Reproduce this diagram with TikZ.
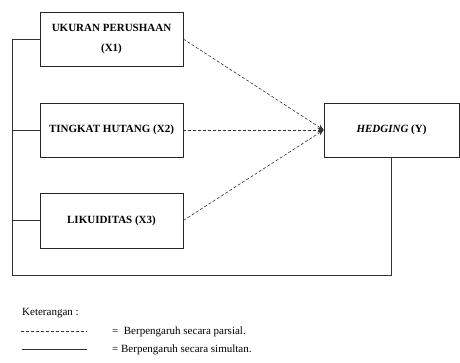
\documentclass[tikz,border=0pt]{standalone}
\usepackage{fontspec}
\setmainfont{Liberation Serif}
\usetikzlibrary{
    positioning,   % Relative positioning
    arrows.meta,   % Modern arrow tips
    shadows        % Drop shadows
}

\tikzset{
    varbox/.style={draw=black!85, line width=0.6pt, fill=white,
        minimum width=143pt, minimum height=54pt, inner sep=0pt,
        align=center, font=\fontsize{11}{20}\selectfont\bfseries,
        drop shadow={shadow xshift=1.2pt, shadow yshift=-1.5pt, fill=black!35, opacity=0.6}},
    partial/.style={draw=black!80, line width=0.6pt, dash pattern=on 3pt off 2pt},
    simul/.style={draw=black!80, line width=0.6pt},
    note/.style={anchor=west, inner sep=0pt, font=\fontsize{11}{13}\selectfont}
}

\begin{document}
\begin{tikzpicture}[x=1pt,y=-1pt]
    \useasboundingbox (0,0) rectangle (460,363);

    % variables
    \node[varbox] (x1) at (111.5,39) {UKURAN PERUSHAAN\\(X1)};
    \node[varbox] (x2) at (111.5,130) {TINGKAT HUTANG (X2)};
    \node[varbox, minimum height=55pt] (x3) at (111.5,220.5) {LIKUIDITAS (X3)};
    \node[varbox, minimum width=135pt] (y) at (391.5,130) {\textit{HEDGING} (Y)};

    % simultaneous path
    \coordinate (bl) at (12,275);
    \draw[simul] (x1.west) -| (bl) -| (y.south);
    \draw[simul] (x2.west) -- (x2.west -| bl);
    \draw[simul] (x3.west) -- (x3.west -| bl);

    % partial paths
    \foreach \v in {x1,x2,x3}
        \draw[partial, -{Stealth[length=6pt,width=5pt]}] (\v.east) -- (y.west);

    % legend
    \node[note] (ket) at (22,313) {Keterangan :};
    \coordinate (pa) at (21,331);
    \coordinate (pb) at (87,331);
    \coordinate (sa) at (22,349);
    \coordinate (sb) at (87,349);
    \draw[partial] (pa) -- (pb);
    \draw[simul] (sa) -- (sb);
    \node[note] (parsial) at (112,332) {=\ \ Berpengaruh secara parsial.};
    \node[note] (simultan) at (112,350) {= Berpengaruh secara simultan.};
\end{tikzpicture}
\end{document}
